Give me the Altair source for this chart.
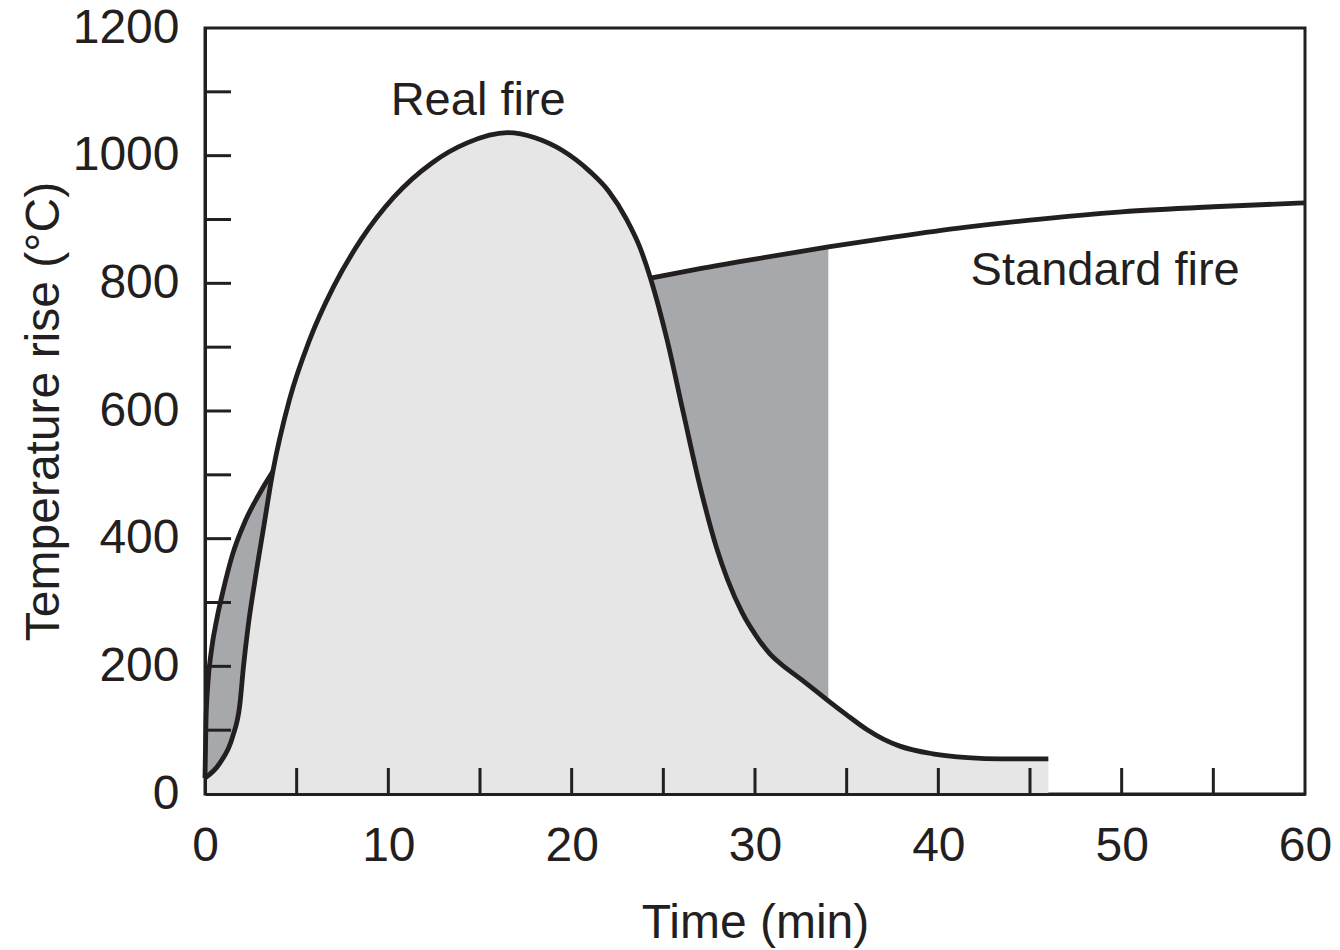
import altair as alt
import pandas as pd

# ---- data ----
real_t = [0, 0.8, 1.5, 1.9, 2.1, 2.35, 2.7, 3.2, 3.7, 4.6, 5.7, 7.0, 8.5, 10.3, 12.4, 14.3,
          16.5, 18.0, 19.5, 21.0, 22.0, 23.0, 23.7, 24.3, 25.2, 26.1, 27.0, 27.9, 28.5,
          29.3, 30.2, 30.8, 31.4, 32.5, 33.3, 34.0, 35.0, 36.1, 37.0, 37.9, 39.7, 41.6,
          43.4, 46.0]
real_T = [25, 48, 89, 140, 200, 262, 330, 418, 505, 617, 711, 794, 868, 935, 989, 1020,
          1036, 1028, 1008, 975, 945, 900, 858, 808, 712, 596, 482, 386, 336,
          284, 242, 220, 204, 180, 162, 146, 124, 101, 86, 75, 63, 57,
          55, 55]

std_early_t = [0, 0.05, 0.15, 0.35, 0.65, 1.0, 1.5, 2.2, 3.0, 3.7]
std_early_T = [25, 110, 170, 225, 275, 320, 375, 428, 472, 505]

std_late_t = [24.3, 27, 30, 34, 37, 41, 45, 50, 55, 60]
std_late_T = [808, 823, 838, 857, 870, 886, 899, 912, 920, 926]

band_end = 34.0

x_tick_vals = [5, 10, 15, 20, 25, 30, 35, 40, 45, 50, 55]
y_tick_vals = [100, 200, 300, 400, 500, 600, 700, 800, 900, 1000, 1100]
x_label_vals = [0, 10, 20, 30, 40, 50, 60]
y_label_vals = [0, 200, 400, 600, 800, 1000, 1200]

note_text = ["Real fire", "Standard fire"]
note_t = [14.9, 49.1]
note_T = [1064, 797]

# ---- styling ----
W, H = 1100, 766
INK = "#231f20"
LIGHT = "#e6e6e6"
DARK = "#a7a8ab"
FONT = "Liberation Sans"
LFS = 48   # tick labels
TFS = 48   # axis titles
NFS = 47   # annotations
TICK = 26
LW = 4.8

real = pd.DataFrame({"t": real_t, "T": real_T})
std_early = pd.DataFrame({"t": std_early_t, "T": std_early_T})
std_late = pd.DataFrame({"t": std_late_t, "T": std_late_T})
band_late = std_late[std_late["t"] <= band_end]
xt = pd.DataFrame({"t": x_tick_vals})
yt = pd.DataFrame({"T": y_tick_vals})
notes = pd.DataFrame({"label": note_text, "t": note_t, "T": note_T})

xs = alt.Scale(domain=[0, 60], nice=False, zero=False)
ys = alt.Scale(domain=[0, 1200], nice=False)

x_axis = alt.Axis(values=x_label_vals, ticks=False, tickSize=0, grid=False,
                  domainColor=INK, domainWidth=3, labelFont=FONT, labelFontSize=LFS,
                  labelColor=INK, labelPadding=28, labelFlush=False, labelOverlap=False,
                  labelAngle=0, format="d", title="Time (min)", titleFont=FONT,
                  titleFontSize=TFS, titleFontWeight="normal", titleColor=INK,
                  titleX=550, titleY=143, titleAlign="center",
                  titleBaseline="alphabetic", zindex=1)
y_axis = alt.Axis(values=y_label_vals, ticks=False, tickSize=0, grid=False,
                  domainColor=INK, domainWidth=3, labelFont=FONT, labelFontSize=LFS,
                  labelColor=INK, labelPadding=26, labelOverlap=False, format="d",
                  title="Temperature rise (°C)", titleFont=FONT, titleFontSize=TFS,
                  titleFontWeight="normal", titleColor=INK, titleAngle=270,
                  titleX=-147, titleY=383, titleAlign="center",
                  titleBaseline="alphabetic", zindex=1)

def xe():
    return alt.X("t:Q", scale=xs, axis=x_axis)

def ye():
    return alt.Y("T:Q", scale=ys, axis=y_axis)

dark_early = alt.Chart(std_early).mark_area(color=DARK, interpolate="monotone").encode(
    x=xe(), y=ye())
dark_late = alt.Chart(band_late).mark_area(color=DARK, interpolate="monotone").encode(
    x=xe(), y=ye())
light = alt.Chart(real).mark_area(color=LIGHT, interpolate="monotone").encode(
    x=xe(), y=ye())

real_line = alt.Chart(real).mark_line(color=INK, strokeWidth=LW, interpolate="monotone").encode(
    x=xe(), y=ye())
std_line1 = alt.Chart(std_early).mark_line(color=INK, strokeWidth=LW, interpolate="monotone").encode(
    x=xe(), y=ye())
std_line2 = alt.Chart(std_late).mark_line(color=INK, strokeWidth=LW, interpolate="monotone").encode(
    x=xe(), y=ye())

x_ticks = alt.Chart(xt).mark_rule(color=INK, strokeWidth=3).encode(
    x=xe(), y=alt.value(H - TICK), y2=alt.value(H))
y_ticks = alt.Chart(yt).mark_rule(color=INK, strokeWidth=3).encode(
    y=ye(), x=alt.value(0), x2=alt.value(TICK))

labels = alt.Chart(notes).mark_text(font=FONT, fontSize=NFS, color=INK, align="center",
                                    baseline="alphabetic").encode(
    x=xe(), y=ye(), text="label:N")

chart = alt.layer(dark_early, dark_late, light, real_line, std_line1, std_line2,
                  x_ticks, y_ticks, labels).properties(
    width=W, height=H,
    padding={"left": 205, "top": 28, "right": 35, "bottom": 156},
    autosize=alt.AutoSizeParams(type="none"),
    background="white",
).configure_view(stroke=INK, strokeWidth=3)

chart.save("out.html", embed_options={"renderer": "svg", "actions": False})
